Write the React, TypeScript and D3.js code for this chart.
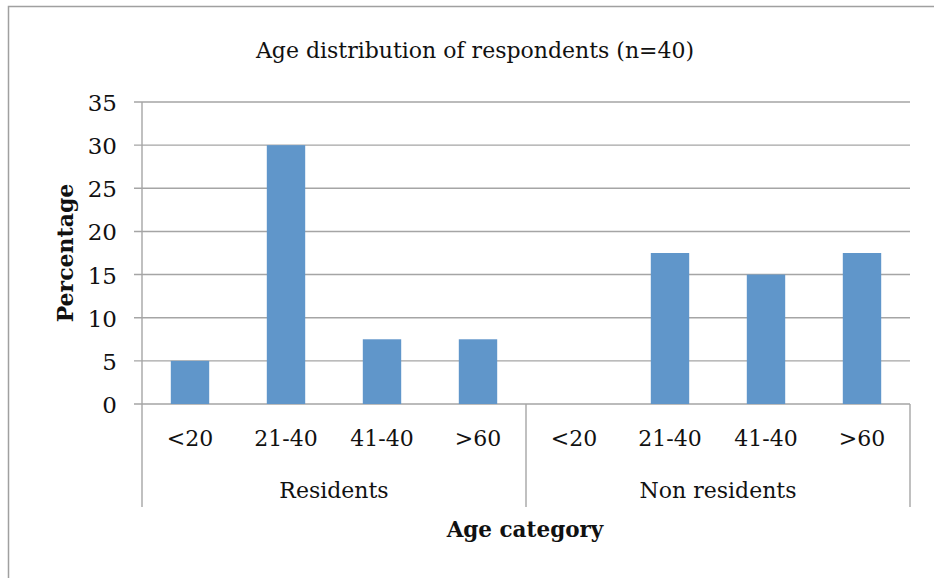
import React from "react";
import * as d3 from "d3";

// Age distribution of survey respondents, split by residency
const groups = ["Residents", "Non residents"];
const ageBands = ["<20", "21-40", "41-40", ">60"];
const residentsPct = [5, 30, 7.5, 7.5];
const nonResidentsPct = [0, 17.5, 15, 17.5];
const yTicks = [0, 5, 10, 15, 20, 25, 30, 35];

const W = 934;
const H = 578;
const FONT = "'DejaVu Serif', 'Liberation Serif', serif";
const AXIS = "#a5a5a5";
const BAR = "#6096ca";

const rows = [
  ...ageBands.map((band, i) => ({ key: `r-${i}`, group: groups[0], band, value: residentsPct[i] })),
  ...ageBands.map((band, i) => ({ key: `n-${i}`, group: groups[1], band, value: nonResidentsPct[i] })),
];

export default function App() {
  const left = 142;
  const right = 910;
  const top = 102;
  const bottom = 404;

  const x = d3
    .scaleBand<string>()
    .domain(rows.map((r) => r.key))
    .range([left, right])
    .paddingInner(0.6)
    .paddingOuter(0.3);
  const y = d3.scaleLinear().domain([0, 35]).range([bottom, top]);

  const groupSpan = x.step() * ageBands.length;
  const groupEdges = groups.map((_, gi) => left + gi * groupSpan);

  return (
    <svg
      width={W}
      height={H}
      style={{ position: "absolute", left: 0, top: 0, background: "#fff" }}
      fontFamily={FONT}
    >
      {/* chart frame */}
      <path d={`M8.5,${H} V6.5 H${W}`} fill="none" stroke="#a0a0a0" strokeWidth={1.5} />

      <text x={475} y={58} textAnchor="middle" fontSize={22} fill="#111">
        Age distribution of respondents (n=40)
      </text>

      {/* gridlines and y tick labels */}
      {yTicks.map((t) => (
        <g key={t}>
          <line x1={left - 8} x2={right} y1={y(t)} y2={y(t)} stroke={AXIS} strokeWidth={1.4} />
          <text x={117} y={y(t) + 9} textAnchor="end" fontSize={23} fill="#111">
            {t}
          </text>
        </g>
      ))}
      <line x1={left} x2={left} y1={top} y2={bottom} stroke={AXIS} strokeWidth={1.4} />

      {/* bars */}
      {rows.map((r) => (
        <rect
          key={r.key}
          x={x(r.key)}
          y={y(r.value)}
          width={x.bandwidth()}
          height={y(0) - y(r.value)}
          fill={BAR}
        />
      ))}

      {/* two-level category axis */}
      {[...groupEdges, right].map((gx, i) => (
        <line key={i} x1={gx} x2={gx} y1={bottom} y2={507} stroke={AXIS} strokeWidth={1.4} />
      ))}
      {rows.map((r) => (
        <text
          key={r.key}
          x={(x(r.key) as number) + x.bandwidth() / 2}
          y={446}
          textAnchor="middle"
          fontSize={22}
          fill="#111"
        >
          {r.band}
        </text>
      ))}
      {groups.map((g, gi) => (
        <text key={g} x={groupEdges[gi] + groupSpan / 2} y={498} textAnchor="middle" fontSize={22} fill="#111">
          {g}
        </text>
      ))}

      <text x={525} y={537} textAnchor="middle" fontSize={21.5} fontWeight="bold" fill="#111">
        Age category
      </text>
      <text
        transform={`translate(73,253) rotate(-90)`}
        textAnchor="middle"
        fontSize={22}
        fontWeight="bold"
        fill="#111"
      >
        Percentage
      </text>
    </svg>
  );
}
